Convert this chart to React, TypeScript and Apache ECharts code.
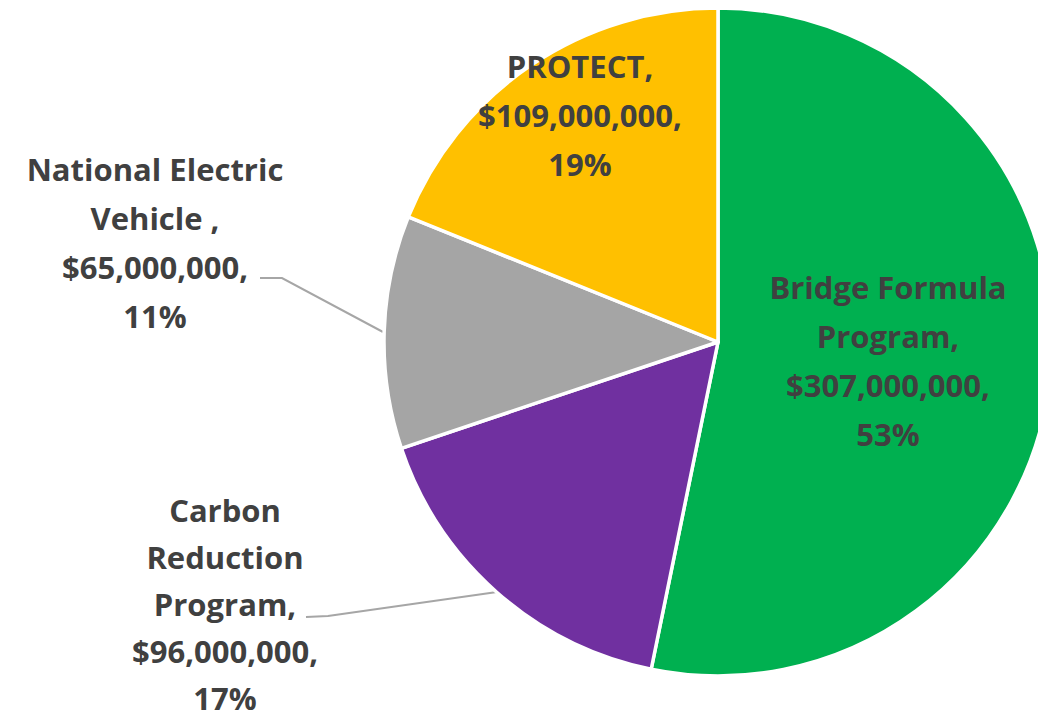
import React, { useEffect, useRef } from "react";
import * as echarts from "echarts";

const categories = [
  "Bridge Formula\nProgram",
  "Carbon\nReduction\nProgram",
  "National Electric\nVehicle ",
  "PROTECT",
];
const values = [307000000, 96000000, 65000000, 109000000];
const colors = ["#00B050", "#7030A0", "#A5A5A5", "#FFC000"];

// label placement (centre of each label block), line heights and leader lines
const labelPos: [number, number][] = [
  [888, 360],
  [225, 604],
  [155, 242],
  [580, 115],
];
const labelLineHeights = [49, 47, 49, 49];
const leaderLines: ([number, number][] | null)[] = [
  null,
  [[497, 592], [328, 616], [306, 617]],
  [[383, 332], [282, 278], [260, 278]],
  null,
];

export default function App() {
  const ref = useRef<HTMLDivElement>(null);
  useEffect(() => {
    const chart = echarts.init(ref.current!, null, { renderer: "svg" });
    chart.setOption({
      animation: false,
      backgroundColor: "#ffffff",
      series: [
        {
          type: "pie",
          center: [718, 342],
          radius: [0, 334],
          startAngle: 90,
          clockwise: true,
          percentPrecision: 0,
          avoidLabelOverlap: false,
          itemStyle: { borderColor: "#ffffff", borderWidth: 3.5 },
          label: {
            show: true,
            position: "outside",
            color: "#404040",
            fontFamily: "'Open Sans', sans-serif",
            fontWeight: "bold",
            fontSize: 31,
            align: "center",
            formatter: (p: any) =>
              `${p.name},\n$${Number(p.value).toLocaleString("en-US")},\n${p.percent}%`,
          },
          labelLine: {
            show: true,
            lineStyle: { color: "#A6A6A6", width: 2 },
          },
          labelLayout: (p: any) => {
            const [cx, cy] = labelPos[p.dataIndex];
            const out: any = {
              x: cx,
              y: cy,
              align: "center",
              verticalAlign: "middle",
            };
            const pts = leaderLines[p.dataIndex];
            if (pts) out.labelLinePoints = pts;
            return out;
          },
          data: categories.map((name, i) => ({
            name,
            value: values[i],
            itemStyle: { color: colors[i] },
            label: { lineHeight: labelLineHeights[i] },
            labelLine: { show: !!leaderLines[i] },
          })),
        },
      ],
    });
    return () => chart.dispose();
  }, []);
  return (
    <div
      ref={ref}
      style={{ position: "fixed", left: 0, top: 0, width: 1038, height: 722 }}
    />
  );
}
